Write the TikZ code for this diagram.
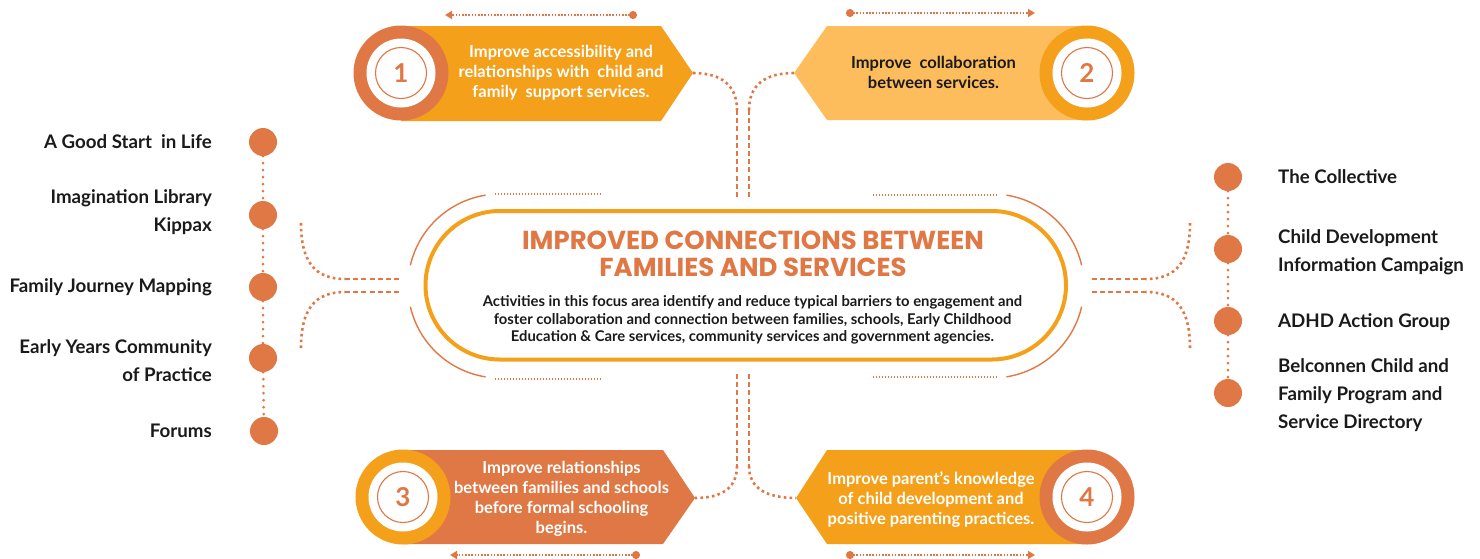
\documentclass[tikz,border=0pt]{standalone}
\usepackage{fontspec}
\setmainfont{Lato}
\newfontfamily\titlefont{Poppins}
\usetikzlibrary{arrows.meta,shapes.misc}
\definecolor{ored}{RGB}{224,120,69}
\definecolor{oyel}{RGB}{245,160,26}
\definecolor{olight}{RGB}{253,189,92}
\definecolor{ink}{RGB}{26,26,26}
\tikzset{
  outerring/.style={circle, inner sep=0pt, minimum size=95pt},
  whitedisc/.style={circle, inner sep=0pt, minimum size=69pt, fill=white},
  numring/.style={circle, inner sep=0pt, minimum size=51pt, draw=ored, line width=1.1pt, text=ored, font=\bfseries\fontsize{26}{26}\selectfont},
  cardtext/.style={align=center, font=\bfseries\fontsize{16.5}{20}\selectfont, inner sep=0pt},
  listtext/.style={font=\bfseries\fontsize{18.7}{28}\selectfont, text=ink, inner sep=0pt},
  listdot/.style={circle, fill=ored, inner sep=0pt, minimum size=28pt},
  dotcurve/.style={draw=ored, line width=2.6pt, dash pattern=on 2.6pt off 3.2pt},
  dashline/.style={draw=ored, line width=2.6pt, dash pattern=on 5pt off 3.2pt},
  finedot/.style={draw=ored, line width=1.3pt, dash pattern=on 1.3pt off 1.7pt},
  arrowline/.style={draw=ored, line width=1.8pt, dash pattern=on 1.6pt off 1.6pt,
     {Circle[length=8pt,fill=ored]}-{Triangle[length=7pt,width=8pt]}},
  thinarc/.style={draw=ored, line width=1.4pt},
  chain/.style={draw=ored, line width=3pt, line cap=round, dash pattern=on 0pt off 7pt}
}
\begin{document}
\begin{tikzpicture}[x=1pt,y=-1pt]
\useasboundingbox (0,0) rectangle (1480,558);

% ---------- hub ----------
\node[rounded rectangle, draw=oyel, line width=4pt, minimum width=640.5pt, minimum height=148.5pt, inner sep=0pt] (hub) at (745.75,285.25) {};
\node[font=\titlefont\bfseries\fontsize{26}{27}\selectfont, text=ored, align=center, inner sep=0pt] (title) at (753,254) {IMPROVED CONNECTIONS BETWEEN\\FAMILIES AND SERVICES};
\node[font=\bfseries\fontsize{14.8}{17.5}\selectfont, text=ink, align=center, inner sep=0pt] (body) at (752.5,320) {Activities in this focus area identify and reduce typical barriers to engagement and\\foster collaboration and connection between families, schools, Early Childhood\\Education \& Care services, community services and government agencies.};

% outer thin arcs
\draw[thinarc] (500,286) ++(-99:92) arc[start angle=-99, end angle=-167, radius=92];
\draw[thinarc] (500,286) ++(167:92) arc[start angle=167, end angle=99, radius=92];
\draw[thinarc] (992,286) ++(-81:92) arc[start angle=-81, end angle=-13, radius=92];
\draw[thinarc] (992,286) ++(13:92) arc[start angle=13, end angle=81, radius=92];
% fine dotted lines
\draw[finedot] (495,194) -- (602,194);
\draw[finedot] (495,379) -- (602,379);
\draw[finedot] (873,195) -- (997,195);
\draw[finedot] (873,377) -- (997,377);

% ---------- card 1 ----------
\fill[oyel] (401,26) -- (661,26) -- (693,73) -- (661,121) -- (401,121) -- cycle;
\coordinate (p1) at (693,73);
\node[outerring, fill=ored] (c1) at (401,73) {};
\node[whitedisc] (w1) at (c1) {};
\node[numring] (n1) at (c1) {1};
\node[cardtext, text=white] (t1) at (561,73) {Improve accessibility and\\relationships with\ \ child and\\family\ \ support services.};
\coordinate (a1s) at (637,15); \coordinate (a1e) at (445,15);
\draw[arrowline] (a1s) -- (a1e);

% ---------- card 2 ----------
\fill[olight] (794,73) -- (827,26) -- (1087,26) -- (1087,120) -- (827,120) -- cycle;
\coordinate (p2) at (794,73);
\node[outerring, fill=oyel] (c2) at (1087,73) {};
\node[whitedisc] (w2) at (c2) {};
\node[numring] (n2) at (c2) {2};
\node[cardtext, text=ink] (t2) at (933.5,72) {Improve\ \ collaboration\\between services.};
\coordinate (a2s) at (846,13); \coordinate (a2e) at (1035,13);
\draw[arrowline] (a2s) -- (a2e);

% ---------- card 3 ----------
\fill[ored] (403,450) -- (663,450) -- (695,498) -- (663,544) -- (403,544) -- cycle;
\coordinate (p3) at (695,498);
\node[outerring, fill=oyel] (c3) at (403,497) {};
\node[whitedisc] (w3) at (c3) {};
\node[numring] (n3) at (c3) {3};
\node[cardtext, text=white] (t3) at (561.5,499) {Improve relationships\\between families and schools\\before formal schooling\\begins.};
\coordinate (a3s) at (640,555); \coordinate (a3e) at (450,555);
\draw[arrowline] (a3s) -- (a3e);

% ---------- card 4 ----------
\fill[oyel] (796,498) -- (827,450) -- (1087,450) -- (1087,544) -- (827,544) -- cycle;
\coordinate (p4) at (796,498);
\node[outerring, fill=ored] (c4) at (1087,497) {};
\node[whitedisc] (w4) at (c4) {};
\node[numring] (n4) at (c4) {4};
\node[cardtext, text=white] (t4) at (931,499.5) {Improve parent’s knowledge\\of child development and\\positive parenting practices.};
\coordinate (a4s) at (846,555); \coordinate (a4e) at (1035,555);
\draw[arrowline] (a4s) -- (a4e);

% ---------- vertical connectors ----------
\coordinate (v1a) at (737,110); \coordinate (v1b) at (737,200);
\coordinate (v2a) at (749,110); \coordinate (v2b) at (749,200);
\coordinate (v3a) at (737,374); \coordinate (v3b) at (737,466);
\coordinate (v4a) at (749,374); \coordinate (v4b) at (749,466);
\draw[dotcurve] (p1) .. controls (722,73) and (737,86) .. (v1a);
\draw[dashline] (v1a) -- (v1b);
\draw[dotcurve] (p2) .. controls (764,73) and (749,86) .. (v2a);
\draw[dashline] (v2a) -- (v2b);
\draw[dashline] (v3a) -- (v3b);
\draw[dotcurve] (v3b) .. controls (737,488) and (722,498) .. (p3);
\draw[dashline] (v4a) -- (v4b);
\draw[dotcurve] (v4b) .. controls (749,488) and (766,498) .. (p4);

% ---------- side connectors ----------
\coordinate (l1) at (301,223); \coordinate (l1m) at (345,279); \coordinate (l1e) at (399,279);
\coordinate (l2) at (301,348); \coordinate (l2m) at (345,292); \coordinate (l2e) at (399,292);
\draw[dotcurve] (l1) .. controls (301,262) and (315,279) .. (l1m);
\draw[dashline] (l1m) -- (l1e);
\draw[dotcurve] (l2) .. controls (301,309) and (315,292) .. (l2m);
\draw[dashline] (l2m) -- (l2e);
\coordinate (r1) at (1190,223); \coordinate (r1m) at (1146,279); \coordinate (r1e) at (1092,279);
\coordinate (r2) at (1190,348); \coordinate (r2m) at (1146,292); \coordinate (r2e) at (1092,292);
\draw[dotcurve] (r1) .. controls (1190,262) and (1176,279) .. (r1m);
\draw[dashline] (r1m) -- (r1e);
\draw[dotcurve] (r2) .. controls (1190,309) and (1176,292) .. (r2m);
\draw[dashline] (r2m) -- (r2e);

% ---------- left list ----------
\node[listdot] (d1) at (263,142) {};
\node[listdot] (d2) at (263,215) {};
\node[listdot] (d3) at (263,287) {};
\node[listdot] (d4) at (263,358) {};
\node[listdot] (d5) at (264,431) {};
\draw[chain] (d1) -- (d2);
\draw[chain] (d2) -- (d3);
\draw[chain] (d3) -- (d4);
\draw[chain] (d4) -- (d5);
\node[listtext, anchor=east] (L1) at (212,142) {A Good Start\ \ in Life};
\node[listtext, anchor=east, align=right] (L2) at (212,212) {Imagination Library\\Kippax};
\node[listtext, anchor=east] (L3) at (212,287) {Family Journey Mapping};
\node[listtext, anchor=east, align=right] (L4) at (212,360.5) {Early Years Community\\of Practice};
\node[listtext, anchor=east] (L5) at (212,431) {Forums};

% ---------- right list ----------
\node[listdot] (e1) at (1228,177) {};
\node[listdot] (e2) at (1228,249) {};
\node[listdot] (e3) at (1228,321) {};
\node[listdot] (e4) at (1228,393) {};
\draw[chain] (e1) -- (e2);
\draw[chain] (e2) -- (e3);
\draw[chain] (e3) -- (e4);
\node[listtext, anchor=west] (R1) at (1278,177) {The Collective};
\node[listtext, anchor=west, align=left] (R2) at (1278,252) {Child Development\\Information Campaign};
\node[listtext, anchor=west] (R3) at (1278,322) {ADHD Action Group};
\node[listtext, anchor=west, align=left] (R4) at (1278,395) {Belconnen Child and\\Family Program and\\Service Directory};
\end{tikzpicture}
\end{document}
